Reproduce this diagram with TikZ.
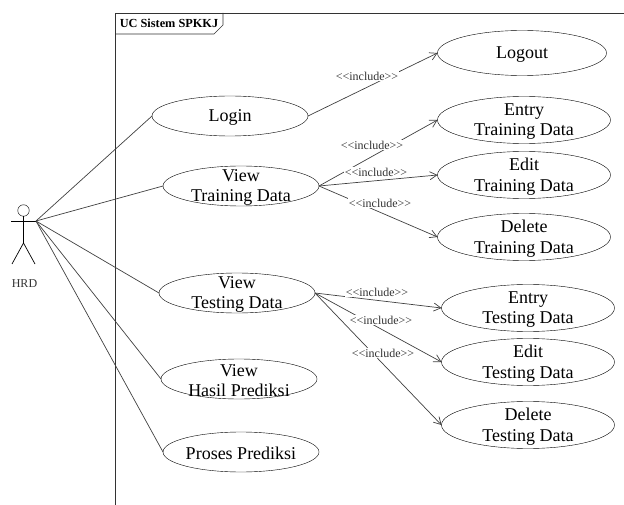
\documentclass[tikz,border=0pt]{standalone}
\usepackage{fontspec}
\setmainfont{Liberation Serif}
\usetikzlibrary{shapes.geometric}
\usetikzlibrary{arrows.meta}

\newcommand{\inclname}{<{}<include>{}>}

\tikzset{
    usecase/.style={ellipse,draw,inner sep=0pt,outer sep=0pt,minimum width=156pt,minimum height=40pt},
    usecasebig/.style={usecase,minimum width=173pt,minimum height=47pt},
    casetext/.style={align=center,yshift=-1.5pt,font=\fontsize{18}{20.5}\selectfont},
    incl/.style={fill=white,inner sep=1pt,text=black!80,font=\fontsize{12}{14}\selectfont},
    assoc/.style={draw=black!75,line width=0.7pt},
    dep/.style={draw=black!75,line width=0.7pt,-{Straight Barb[length=7pt,width=8pt]}}
}

\begin{document}
\begin{tikzpicture}[x=1pt,y=-1pt]

            \useasboundingbox (0,0) rectangle (624,505);

            % frame
            \draw[line width=0.9pt,black!80] (115,505) -- (115,13) -- (624,13);
            \draw[line width=0.7pt,black!80] (223,13) -- (223,25) -- (214,34) -- (115,34);
            \path (169,23) node (frametitle) [font=\bfseries\fontsize{12.3}{15}\selectfont] {UC Sistem SPKKJ};

            % actor
            \path   (23.5,210.5) node (head) [circle,draw,inner sep=0pt,outer sep=0pt,minimum size=11.5pt] {}
                    (24.5,284) node (hrd) [font=\fontsize{12}{14}\selectfont,text=black!80] {HRD};
            \coordinate (hand) at (36,221);
            \coordinate (arm) at (11,221);
            \coordinate (hip) at (23.5,243);
            \draw[line width=0.7pt] (arm) -- (hand);
            \draw[line width=0.7pt] (head) -- (hip);
            \draw[line width=0.7pt] (12,264) -- (hip) -- (35,264);

            % left column
            \path   (230,116) node (login) [usecase,label={[casetext]center:Login}] {}
                    (241,186) node (viewtrain) [usecase,label={[casetext]center:View\\Training Data}] {}
                    (237,293) node (viewtest) [usecase,label={[casetext]center:View\\Testing Data}] {}
                    (239,379) node (viewhasil) [usecase,label={[casetext]center:View\\Hasil Prediksi}] {}
                    (241,452) node (proses) [usecase,label={[casetext]center:Proses Prediksi}] {};

            % right column
            \path   (522,53) node (logout) [usecasebig,minimum width=169pt,minimum height=45pt,label={[casetext]center:Logout}] {}
                    (524,120) node (entrytrain) [usecasebig,label={[casetext]center:Entry\\Training Data}] {}
                    (524,175) node (edittrain) [usecasebig,label={[casetext]center:Edit\\Training Data}] {}
                    (524,237) node (deltrain) [usecasebig,label={[casetext]center:Delete\\Training Data}] {}
                    (528,308) node (entrytest) [usecasebig,label={[casetext]center:Entry\\Testing Data}] {}
                    (528,362) node (edittest) [usecasebig,label={[casetext]center:Edit\\Testing Data}] {}
                    (528,425) node (deltest) [usecasebig,label={[casetext]center:Delete\\Testing Data}] {};

            \foreach \case in {login,viewtrain,viewtest,viewhasil,proses}
                \draw[assoc] (hand) -- (node cs:name=\case,anchor=west);

            \draw[dep] (node cs:name=login,anchor=east) -- (node cs:name=logout,anchor=west);
            \foreach \case in {entrytrain,edittrain,deltrain}
                \draw[dep] (node cs:name=viewtrain,anchor=east) -- (node cs:name=\case,anchor=west);
            \foreach \case in {entrytest,edittest,deltest}
                \draw[dep] (node cs:name=viewtest,anchor=east) -- (node cs:name=\case,anchor=west);

            % labels sit on top of the lines
            \path   (367,76) node (incl1) [incl] {\inclname}
                    (372,145) node (incl2) [incl] {\inclname}
                    (376,172) node (incl3) [incl] {\inclname}
                    (380,203) node (incl4) [incl] {\inclname}
                    (377,292) node (incl5) [incl] {\inclname}
                    (381,320) node (incl6) [incl] {\inclname}
                    (383,353) node (incl7) [incl] {\inclname};

        \end{tikzpicture}
\end{document}
